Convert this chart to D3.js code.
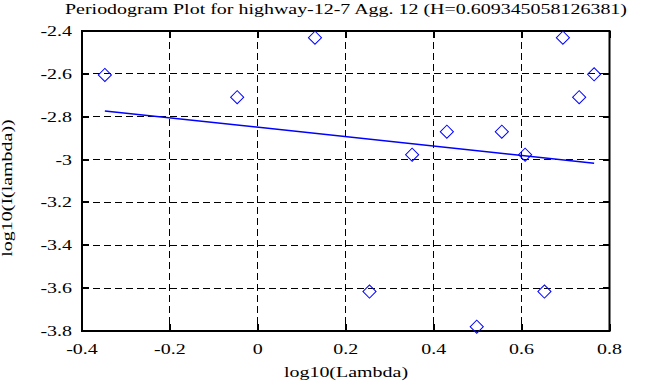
<!DOCTYPE html>
<html>
<head>
<meta charset="utf-8">
<script src="https://cdn.jsdelivr.net/npm/d3@7"></script>
<style>
  html, body { margin: 0; padding: 0; background: #fff; }
  svg text { font-family: "Liberation Serif", "Times New Roman", serif; font-size: 15px; fill: #000; }
</style>
</head>
<body>
<div id="chart"></div>
<script>
// periodogram points: log10(lambda) vs log10(I(lambda))
const logLambda = [-0.348, -0.047, 0.130, 0.254, 0.351, 0.430, 0.498, 0.555, 0.608, 0.652, 0.694, 0.731, 0.765];
const logPower  = [-2.605, -2.709, -2.431, -3.616, -2.977, -2.870, -3.780, -2.870, -2.977, -3.616, -2.431, -2.709, -2.602];

// least squares fit line, end points
const fitX = [-0.348, 0.765];
const fitY = [-2.773, -3.017];

const xTicks = [-0.4, -0.2, 0, 0.2, 0.4, 0.6, 0.8];
const yTicks = [-2.4, -2.6, -2.8, -3, -3.2, -3.4, -3.6, -3.8];

const titleText = "Periodogram Plot for highway-12-7 Agg. 12 (H=0.609345058126381)";

const W = 668, H = 387;
const plot = { left: 82, right: 609.5, top: 31, bottom: 331 };

const svg = d3.select("#chart").append("svg")
  .attr("width", W)
  .attr("height", H);

const x = d3.scaleLinear().domain([-0.4, 0.8]).range([plot.left, plot.right]);
const y = d3.scaleLinear().domain([-3.8, -2.4]).range([plot.bottom, plot.top]);

// dashed grid
svg.append("g")
  .selectAll("line")
  .data(xTicks.slice(1, -1))
  .enter().append("line")
  .attr("x1", d => x(d)).attr("x2", d => x(d))
  .attr("y1", plot.top).attr("y2", plot.bottom)
  .attr("stroke", "#000").attr("stroke-width", 1)
  .attr("stroke-dasharray", "7,4")
  .attr("shape-rendering", "crispEdges");

svg.append("g")
  .selectAll("line")
  .data(yTicks.slice(1, -1))
  .enter().append("line")
  .attr("x1", plot.left).attr("x2", plot.right)
  .attr("y1", d => y(d)).attr("y2", d => y(d))
  .attr("stroke", "#000").attr("stroke-width", 1)
  .attr("stroke-dasharray", "7,4")
  .attr("shape-rendering", "crispEdges");

// inward tick marks on every side
const tickLen = 7;
const ticks = svg.append("g")
  .attr("stroke", "#000").attr("stroke-width", 2)
  .attr("shape-rendering", "crispEdges");
xTicks.forEach(d => {
  ticks.append("line").attr("x1", x(d)).attr("x2", x(d))
    .attr("y1", plot.bottom).attr("y2", plot.bottom - tickLen);
  ticks.append("line").attr("x1", x(d)).attr("x2", x(d))
    .attr("y1", plot.top).attr("y2", plot.top + tickLen);
});
yTicks.forEach(d => {
  ticks.append("line").attr("x1", plot.left).attr("x2", plot.left + tickLen)
    .attr("y1", y(d)).attr("y2", y(d));
  ticks.append("line").attr("x1", plot.right).attr("x2", plot.right - tickLen)
    .attr("y1", y(d)).attr("y2", y(d));
});

// frame
svg.append("rect")
  .attr("x", plot.left).attr("y", plot.top)
  .attr("width", plot.right - plot.left)
  .attr("height", plot.bottom - plot.top)
  .attr("fill", "none")
  .attr("stroke", "#000").attr("stroke-width", 2);

// fit line
const line = d3.line().x(d => x(d[0])).y(d => y(d[1]));
svg.append("path")
  .datum(d3.zip(fitX, fitY))
  .attr("fill", "none")
  .attr("stroke", "#0000ff")
  .attr("stroke-width", 1.5)
  .attr("d", line);

// diamonds
const diamond = d3.symbol().type(d3.symbolSquare).size(86);
svg.append("g")
  .selectAll("path")
  .data(d3.zip(logLambda, logPower))
  .enter().append("path")
  .attr("d", diamond)
  .attr("transform", d => `translate(${x(d[0])},${y(d[1])}) rotate(45)`)
  .attr("fill", "none")
  .attr("stroke", "#0000ff")
  .attr("stroke-width", 1);

// tick labels
const fmt = d => String(+d.toFixed(1));
svg.append("g")
  .selectAll("text")
  .data(xTicks)
  .enter().append("text")
  .attr("class", "wide")
  .attr("x", d => x(d))
  .attr("y", 354)
  .attr("text-anchor", "middle")
  .text(fmt);

svg.append("g")
  .selectAll("text")
  .data(yTicks)
  .enter().append("text")
  .attr("class", "wide")
  .attr("x", 72)
  .attr("y", d => y(d) + 5)
  .attr("text-anchor", "end")
  .text(fmt);

// titles
svg.append("text")
  .attr("class", "wide")
  .attr("x", 346).attr("y", 14)
  .attr("text-anchor", "middle")
  .text(titleText);

svg.append("text")
  .attr("class", "wide")
  .attr("x", 346).attr("y", 377)
  .attr("text-anchor", "middle")
  .text("log10(Lambda)");

svg.append("text")
  .attr("class", "wide")
  .attr("transform", "translate(12,188) rotate(-90)")
  .attr("text-anchor", "middle")
  .text("log10(I(lambda))");

// the original font is a wide bitmap serif: stretch glyphs sideways
svg.selectAll("text.wide").each(function () {
  const len = this.getComputedTextLength();
  d3.select(this)
    .attr("textLength", (len * 1.33).toFixed(1))
    .attr("lengthAdjust", "spacingAndGlyphs");
});
</script>
</body>
</html>
